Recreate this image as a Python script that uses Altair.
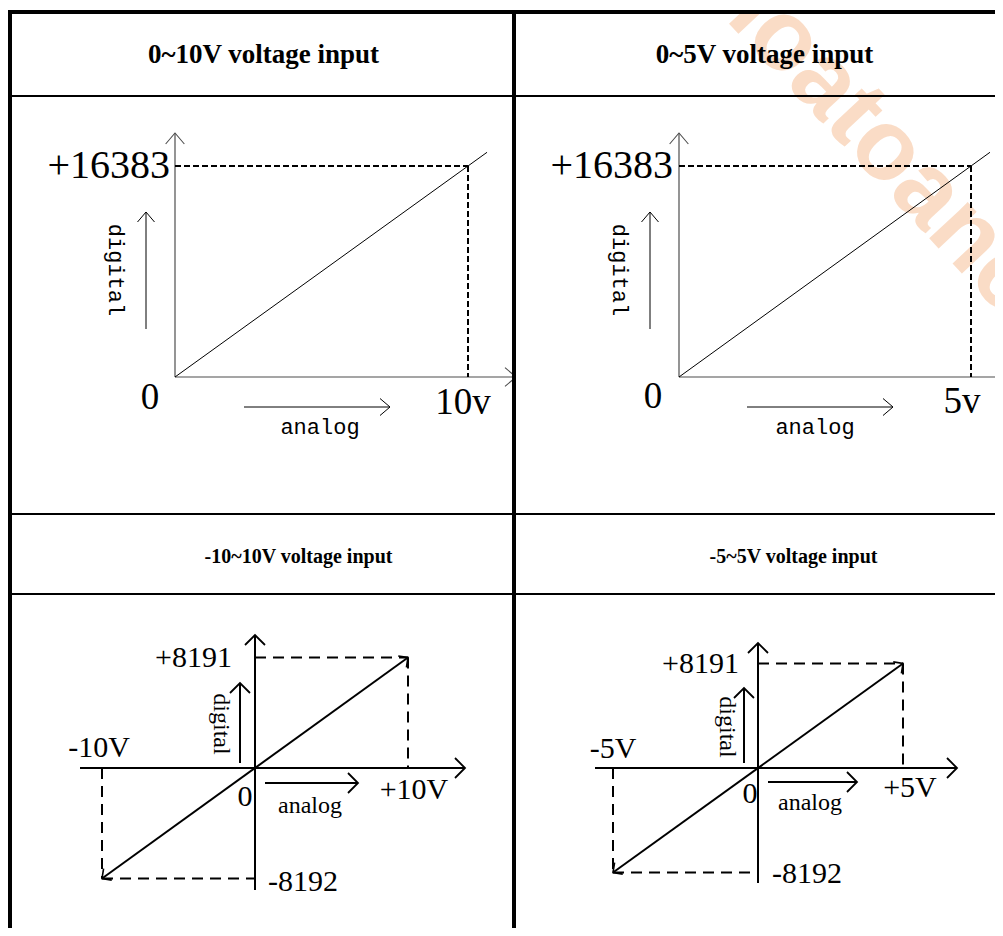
import math
import altair as alt
import pandas as pd

# ---------------- chart content ----------------
HEADERS = ["0~10V voltage input", "0~5V voltage input",
           "-10~10V voltage input", "-5~5V voltage input"]

UNI_FS_VOLT = [10, 5]                 # full-scale analog input of the unipolar ranges (V)
UNI_FS_VOLT_LABEL = ["10v", "5v"]
UNI_FS_DIGITAL = 16383                # digital value at full scale
UNI_FS_DIGITAL_LABEL = "+16383"

BI_FS_VOLT = [10, 5]                  # full-scale analog input of the bipolar ranges (V)
BI_POS_VOLT_LABEL = ["+10V", "+5V"]
BI_NEG_VOLT_LABEL = ["-10V", "-5V"]
BI_DIGITAL_MAX = 8191
BI_DIGITAL_MIN = -8192
BI_MAX_LABEL = "+8191"
BI_MIN_LABEL = "-8192"

ZERO_LABEL = "0"
ANALOG_LABEL = "analog"
DIGITAL_LABEL = "digital"
WATERMARK = "hoatoancau"

# ---------------- layout / style (pixels) ----------------
COL_W = [506, 481]
ROW_H = [86, 418, 80, 334]
SERIF = "Times New Roman, Liberation Serif, serif"
MONO = "Liberation Mono, DejaVu Sans Mono, monospace"
SANS = "Liberation Sans, Arial, sans-serif"
AXIS_GRAY = "#4d4d4d"
WM_COLOR = "#fadcc6"
WM_SIZE = 100
WM_START = (209, -37)          # watermark start, relative to the top-right header cell
HEAD = "M-1,1L0,0L1,1"
HEAD_NARROW = "M-0.85,1L0,0L0.85,1"

TOP_GEOM = [
    dict(ox=167, oy=281, fsx=293, fsy=211, x_end=341, y_end=244, overshoot=1.065,
         dig_arrow_x=-29, dig_arrow_y=(48, 165), dig_text=(-59, 107),
         an_arrow_x=(69, 215), an_arrow_y=-30, an_text=(145, -57),
         dig_lbl_dx=-5, zero=(-25, -21), fs_lbl=(-5, -37)),
    dict(ox=165, oy=281, fsx=292, fsy=211, x_end=341, y_end=244, overshoot=1.065,
         dig_arrow_x=-29, dig_arrow_y=(48, 165), dig_text=(-59, 107),
         an_arrow_x=(68, 214), an_arrow_y=-30, an_text=(136, -57),
         dig_lbl_dx=-6, zero=(-26, -20), fs_lbl=(-9, -36)),
]
BOT_GEOM = [
    dict(ox=247, oy=174, fsx=153, fsy=110.5, x_lo=-175, x_hi=210, y_lo=-122, y_hi=133,
         max_dx=-23, neg_lbl=(-3, 11), zero=(-10, -38), pos_lbl=(6, -31), min_lbl=(13, -3),
         an_arrow=(-15, 10, 103), an_text=(55, -45), dig_arrow=(-15, 5, 85), dig_text=(-34, 44)),
    dict(ox=244, oy=174, fsx=145, fsy=104.5, x_lo=-163, x_hi=199, y_lo=-115, y_hi=125,
         max_dx=-19, neg_lbl=(0, 10), zero=(-8, -35), pos_lbl=(7, -29), min_lbl=(14, -1),
         an_arrow=(-14, 10, 99), an_text=(52, -42), dig_arrow=(-14, 5, 80), dig_text=(-31, 41)),
]


class Frame:
    def __init__(self, W, H, ox, oy, kx, ky):
        self.kx, self.ky = kx, ky
        self.xs = alt.Scale(domain=[-ox / kx, (W - ox) / kx], nice=False, zero=False)
        self.ys = alt.Scale(domain=[-(H - oy) / ky, oy / ky], nice=False, zero=False)

    def X(self, f="x"):
        return alt.X(f"{f}:Q", scale=self.xs, axis=None)

    def Y(self, f="y"):
        return alt.Y(f"{f}:Q", scale=self.ys, axis=None)

    def px(self, d):
        return d / self.kx

    def py(self, d):
        return d / self.ky


def rules(f, rows, color, width, dash=None, clip=False):
    df = pd.DataFrame(rows, columns=["x", "y", "x2", "y2"])
    kw = dict(color=color, strokeWidth=width, strokeCap="butt", clip=clip)
    if dash:
        kw["strokeDash"] = dash
    return alt.Chart(df).mark_rule(**kw).encode(
        x=f.X("x"), x2="x2:Q", y=f.Y("y"), y2="y2:Q")


def heads(f, rows, color, width, size, shape=HEAD, clip=False):
    df = pd.DataFrame(rows, columns=["x", "y", "ang"])
    return alt.Chart(df).mark_point(
        shape=shape, size=size, filled=False, opacity=1, color=color,
        strokeWidth=width, clip=clip).encode(
        x=f.X("x"), y=f.Y("y"), angle=alt.Angle("ang:Q", scale=None))


def label(f, text, x, y, size, font, align="center", baseline="middle", angle=0):
    df = pd.DataFrame({"x": [x], "y": [y], "t": [text]})
    return alt.Chart(df).mark_text(
        align=align, baseline=baseline, angle=angle, fontSize=size, font=font,
        color="black").encode(x=f.X("x"), y=f.Y("y"), text="t:N")


def block(x, x2, y, y2):
    return alt.Chart(alt.Data(values=[{}])).mark_rect(color="black", strokeWidth=0).encode(
        x=alt.value(x), x2=alt.value(x2), y=alt.value(y), y2=alt.value(y2))


def borders(col, row):
    W, H = COL_W[col], ROW_H[row]
    out = []
    if row == 0:
        out.append(block(0, W, 0, 4))
    else:
        out.append(block(0, W, 0, 1))
    if row < 3:
        out.append(block(0, W, H - 1, H))
    if col == 0:
        out.append(block(0, 4, 0, H))
        out.append(block(W - 2, W, 0, H))
    else:
        out.append(block(0, 2, 0, H))
    return out


def watermark(x, y):
    return alt.Chart(alt.Data(values=[{"t": WATERMARK}])).mark_text(
        font=SANS, fontSize=WM_SIZE, fontWeight="bold", color=WM_COLOR, angle=47,
        align="left", baseline="middle", clip=True).encode(
        x=alt.value(x), y=alt.value(y), text="t:N")


def header_cell(i, row, cx, cy, size):
    col = i % 2
    W, H = COL_W[col], ROW_H[row]
    layers = []
    if i == 1:
        layers.append(watermark(WM_START[0], WM_START[1]))
    layers.append(alt.Chart(alt.Data(values=[{"t": HEADERS[i]}])).mark_text(
        font=SERIF, fontSize=size, fontWeight="bold", align="center", baseline="middle",
        color="black").encode(x=alt.value(cx), y=alt.value(cy), text="t:N"))
    layers += borders(col, row)
    return alt.layer(*layers).properties(width=W, height=H)


def top_panel(i):
    g = TOP_GEOM[i]
    W, H = COL_W[i], ROW_H[1]
    V, D = UNI_FS_VOLT[i], UNI_FS_DIGITAL
    f = Frame(W, H, g["ox"], g["oy"], g["fsx"] / V, g["fsy"] / D)
    xe, ye = f.px(g["x_end"]), f.py(g["y_end"])
    k = g["overshoot"]
    ax = f.px(g["dig_arrow_x"])
    ay0, ay1 = f.py(g["dig_arrow_y"][0]), f.py(g["dig_arrow_y"][1])
    bx0, bx1 = f.px(g["an_arrow_x"][0]), f.px(g["an_arrow_x"][1])
    by = f.py(g["an_arrow_y"])
    layers = []
    if i == 1:
        layers.append(watermark(WM_START[0], WM_START[1] - ROW_H[0]))
    layers += [
        rules(f, [(0, 0, xe, 0), (0, 0, 0, ye)], AXIS_GRAY, 1.2, clip=True),
        heads(f, [(xe, 0, 90), (0, ye, 0)], AXIS_GRAY, 1.1, 22 ** 2, HEAD_NARROW, clip=True),
        rules(f, [(0, 0, k * V, k * D)], "black", 1.0, clip=True),
        rules(f, [(0, D, V, D), (V, D, V, 0)], "black", 2, dash=[6, 3]),
        rules(f, [(ax, ay0, ax, ay1), (bx0, by, bx1, by)], "black", 1.0),
        heads(f, [(ax, ay1, 0), (bx1, by, 90)], "black", 1.0, 20 ** 2, HEAD_NARROW),
        label(f, UNI_FS_DIGITAL_LABEL, f.px(g["dig_lbl_dx"]), D, 40, SERIF, align="right"),
        label(f, ZERO_LABEL, f.px(g["zero"][0]), f.py(g["zero"][1]), 37, SERIF),
        label(f, UNI_FS_VOLT_LABEL[i], V + f.px(g["fs_lbl"][0]), f.py(g["fs_lbl"][1]), 37,
              SERIF, baseline="alphabetic"),
        label(f, ANALOG_LABEL, f.px(g["an_text"][0]), f.py(g["an_text"][1]), 22, MONO,
              baseline="alphabetic"),
        label(f, DIGITAL_LABEL, f.px(g["dig_text"][0]), f.py(g["dig_text"][1]), 22, MONO,
              angle=90),
    ]
    layers += borders(i, 1)
    return alt.layer(*layers).properties(width=W, height=H)


def bottom_panel(i):
    g = BOT_GEOM[i]
    W, H = COL_W[i], ROW_H[3]
    V, MX, MN = BI_FS_VOLT[i], BI_DIGITAL_MAX, BI_DIGITAL_MIN
    f = Frame(W, H, g["ox"], g["oy"], g["fsx"] / V, g["fsy"] / MX)
    theta = math.degrees(math.atan2(f.kx * V, f.ky * MX))
    x_lo, x_hi = f.px(g["x_lo"]), f.px(g["x_hi"])
    y_lo, y_hi = f.py(g["y_lo"]), f.py(g["y_hi"])
    ax, ay0, ay1 = f.px(g["an_arrow"][1]), f.px(g["an_arrow"][2]), f.py(g["an_arrow"][0])
    dx_, dy0, dy1 = f.px(g["dig_arrow"][0]), f.py(g["dig_arrow"][1]), f.py(g["dig_arrow"][2])
    layers = [
        rules(f, [(x_lo, 0, x_hi, 0), (0, y_lo, 0, y_hi)], "black", 2),
        heads(f, [(x_hi, 0, 90), (0, y_hi, 0)], "black", 1.8, 20 ** 2),
        rules(f, [(-V, MN, V, MX)], "black", 2),
        heads(f, [(V, MX, theta), (-V, MN, theta + 180)], "black", 1.6, 14 ** 2),
        rules(f, [(0, MX, V, MX), (V, MX, V, 0), (-V, 0, -V, MN), (-V, MN, 0, MN)],
              "black", 2, dash=[11, 7]),
        rules(f, [(ax, ay1, ay0, ay1), (dx_, dy0, dx_, dy1)], "black", 2),
        heads(f, [(ay0, ay1, 90), (dx_, dy1, 0)], "black", 1.8, 20 ** 2),
        label(f, BI_MAX_LABEL, f.px(g["max_dx"]), MX, 30, SERIF, align="right"),
        label(f, BI_NEG_VOLT_LABEL[i], -V + f.px(g["neg_lbl"][0]), f.py(g["neg_lbl"][1]), 30,
              SERIF, baseline="alphabetic"),
        label(f, ZERO_LABEL, f.px(g["zero"][0]), f.py(g["zero"][1]), 30, SERIF,
              baseline="alphabetic"),
        label(f, BI_POS_VOLT_LABEL[i], V + f.px(g["pos_lbl"][0]), f.py(g["pos_lbl"][1]), 30,
              SERIF, baseline="alphabetic"),
        label(f, BI_MIN_LABEL, f.px(g["min_lbl"][0]), MN + f.py(g["min_lbl"][1]), 30, SERIF,
              align="left"),
        label(f, ANALOG_LABEL, f.px(g["an_text"][0]), f.py(g["an_text"][1]), 24, SERIF,
              baseline="alphabetic"),
        label(f, DIGITAL_LABEL, f.px(g["dig_text"][0]), f.py(g["dig_text"][1]), 24, SERIF,
              angle=90),
    ]
    layers += borders(i, 3)
    return alt.layer(*layers).properties(width=W, height=H)


cells = [
    header_cell(0, 0, 255.5, 45, 27),
    header_cell(1, 0, 250.5, 45, 27),
    top_panel(0),
    top_panel(1),
    header_cell(2, 2, 290.5, 43, 20),
    header_cell(3, 2, 279.5, 43, 20),
    bottom_panel(0),
    bottom_panel(1),
]

chart = alt.concat(*cells, columns=2, spacing=0, bounds="flush", align="each").properties(
    padding={"left": 0, "top": 2, "right": 0, "bottom": 0},
    background="white",
).configure_view(stroke=None)

chart.save("out.html", embed_options={"renderer": "svg", "actions": False})
